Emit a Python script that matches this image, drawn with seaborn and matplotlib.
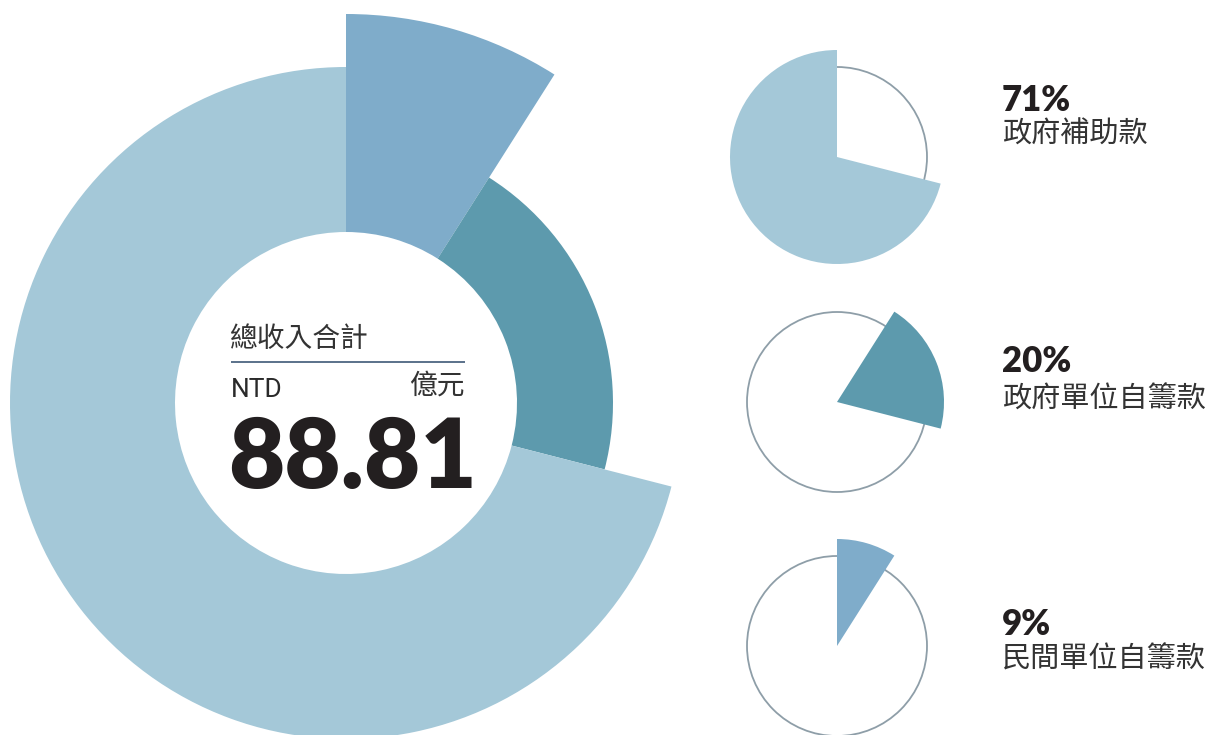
import matplotlib
matplotlib.use("Agg")
import matplotlib.pyplot as plt
from matplotlib.patches import Wedge, Circle
import seaborn as sns

# Revenue sources, listed clockwise from 12 o'clock around the ring
sources = ["民間單位自籌款", "政府單位自籌款", "政府補助款"]
shares = [9, 20, 71]            # percent of total revenue
total_revenue = 88.81           # 億元
center_title = "總收入合計"
currency = "NTD"
unit = "億元"

# Right-hand breakdown, top to bottom
breakdown_order = ["政府補助款", "政府單位自籌款", "民間單位自籌款"]

# Styling
colors = {"民間單位自籌款": "#7facca", "政府單位自籌款": "#5d9aad", "政府補助款": "#a4c8d8"}
ring_outer = {"民間單位自籌款": 389, "政府單位自籌款": 267, "政府補助款": 336}
ring_inner = 171
ring_center = (346, 403)
pie_x = 837
pie_y = {"政府補助款": 157, "政府單位自籌款": 402, "民間單位自籌款": 646}
pie_r, guide_r = 107, 90
pct_base = {"政府補助款": 111, "政府單位自籌款": 372, "民間單位自籌款": 635}
name_base = {"政府補助款": 143, "政府單位自籌款": 408, "民間單位自籌款": 668}

sns.set_theme(style="white")
CJK = ["Noto Sans CJK TC", "DejaVu Sans"]
LATIN_BOLD = ["Lato", "DejaVu Sans"]
plt.rcParams["font.family"] = CJK

fig = plt.figure(figsize=(12.17, 7.35), dpi=100)
ax = fig.add_axes([0, 0, 1, 1])
ax.set_xlim(0, 1217)
ax.set_ylim(735, 0)   # y grows downward, so wedge angles run clockwise
ax.axis("off")

# angular span of each source, clockwise from 12 o'clock
spans = {}
start = 0.0
for name, share in zip(sources, shares):
    end = start + share / sum(shares) * 360.0
    spans[name] = (start - 90.0, end - 90.0)
    start = end

# main ring with radius varying per source
for name in sources:
    t1, t2 = spans[name]
    r = ring_outer[name]
    ax.add_patch(Wedge(ring_center, r, t1, t2, width=r - ring_inner,
                       facecolor=colors[name], edgecolor="none"))

# centre label block
cx0, cx1 = 231, 465
ax.text(cx0 - 2, 347, center_title, fontsize=20, color="#333333",
        va="baseline", ha="left", family=CJK)
ax.plot([cx0, cx1], [362, 362], color="#2d4a6b", lw=1.1, solid_capstyle="butt")
ax.text(cx0, 397, currency, fontsize=19, color="#2a2a2a", va="baseline", ha="left",
        family=["Roboto", "DejaVu Sans"])
ax.text(cx1, 394, unit, fontsize=20, color="#333333", va="baseline", ha="right", family=CJK)
ax.text(cx0 - 3, 488, f"{total_revenue:.2f}", fontsize=70, fontweight="heavy",
        color="#231f20", va="baseline", ha="left", family=LATIN_BOLD)

# small pies on the right
for name in breakdown_order:
    cy = pie_y[name]
    t1, t2 = spans[name]
    ax.add_patch(Circle((pie_x, cy), guide_r, fill=False, edgecolor="#8e9ea8", lw=1.3))
    ax.add_patch(Wedge((pie_x, cy), pie_r, t1, t2, facecolor=colors[name], edgecolor="none"))
    share = shares[sources.index(name)]
    ax.text(1002, pct_base[name], f"{share}%", fontsize=25, fontweight="heavy",
            color="#231f20", va="baseline", ha="left", family=LATIN_BOLD)
    ax.text(1002, name_base[name], name, fontsize=21, color="#333333", fontweight="light",
            va="baseline", ha="left", family=CJK)

fig.savefig("out.png", dpi=100, facecolor="white")
